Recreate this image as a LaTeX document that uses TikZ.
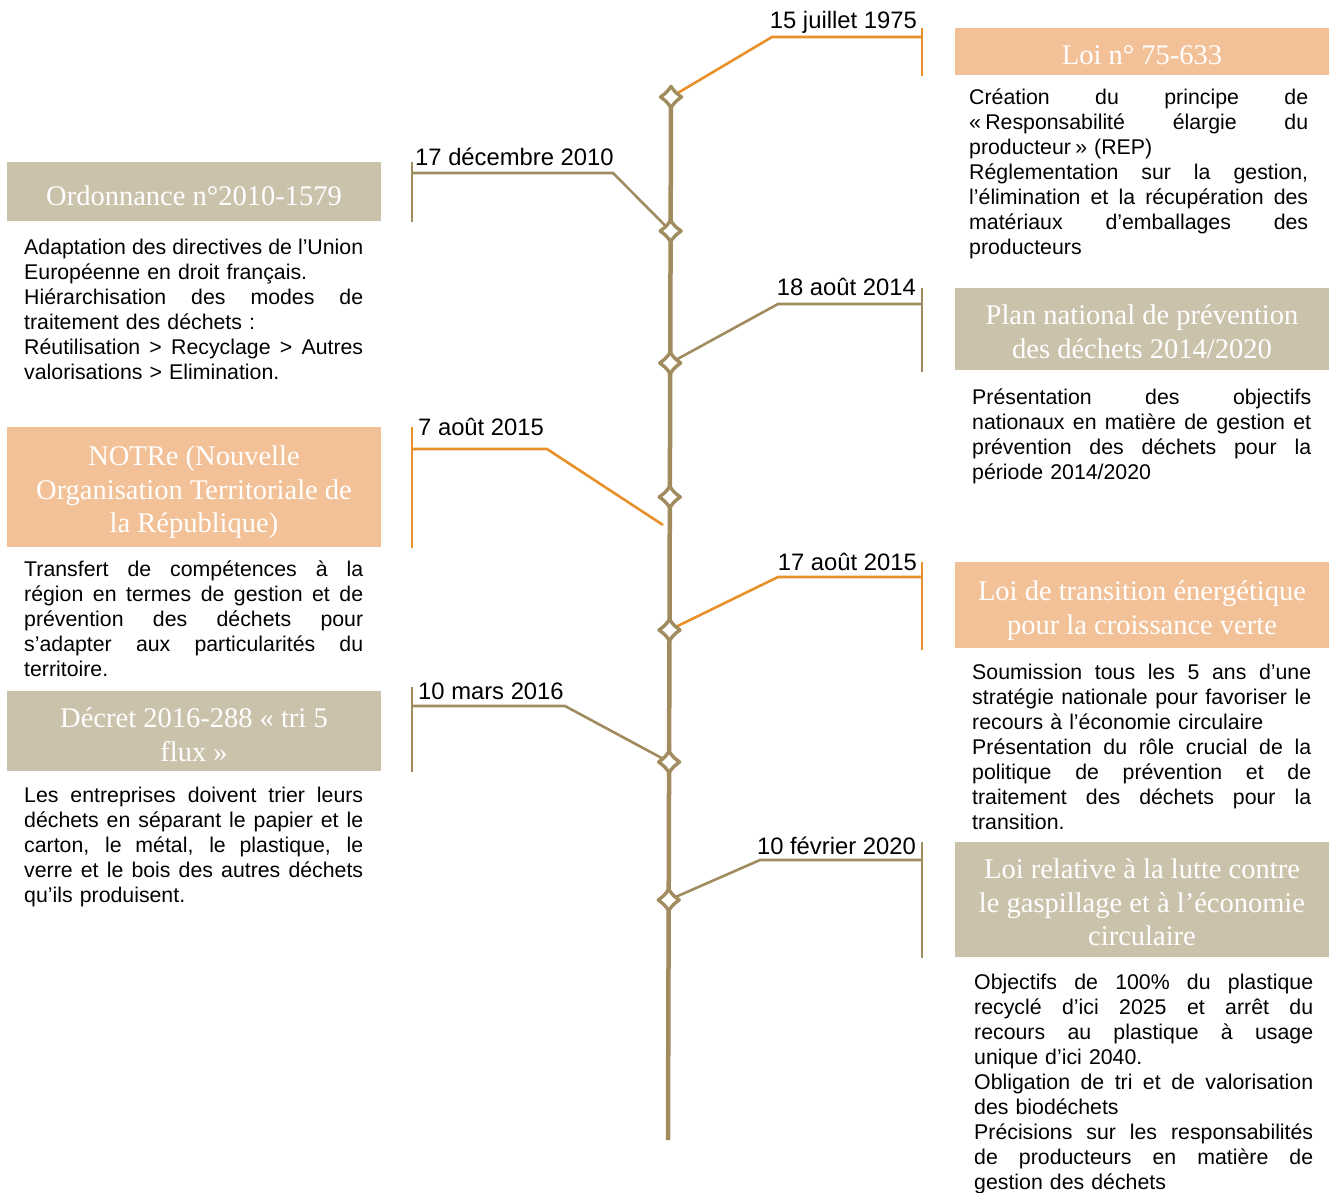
\documentclass[tikz,border=0pt]{standalone}
\usepackage{fontspec}
\setmainfont{Liberation Serif}
\newfontfamily\arialf{Liberation Sans}
\definecolor{brn}{HTML}{A08C5F}
\definecolor{org}{HTML}{E8912B}
\definecolor{graybox}{HTML}{CBC2AC}
\definecolor{orgbox}{HTML}{F3C197}
\newcommand\jline[1]{\hbox to 339pt{\spaceskip=\fontdimen2\font plus 1fil minus 0.3\fontdimen2\font\relax\vrule height19pt depth6pt width0pt #1}}
\newcommand\lline[1]{\hbox{\vrule height19pt depth6pt width0pt #1}}
\tikzset{
  tline/.style={draw=brn, line width=4.5pt},
  bline/.style={draw=brn, line width=2.6pt},
  oline/.style={draw=org, line width=2.6pt},
  body/.style={anchor=north west, inner sep=0pt, text width=339pt,
     font=\arialf\fontsize{21.3}{25}\selectfont, text=black},
  datel/.style={inner sep=0pt, font=\arialf\fontsize{23.8}{28}\selectfont, text=black},
  ttl/.style={anchor=north, inner sep=0pt, align=center, text=white,
     font=\fontsize{28.5}{33.5}\selectfont},
  mk/.pic={\draw[draw=brn, fill=white, line width=3.4pt, line join=round]
     (0,-10.5) .. controls (4,-5) and (5,-4) .. (10.5,0)
     .. controls (5,4) and (4,5) .. (0,10.5)
     .. controls (-4,5) and (-5,4) .. (-10.5,0)
     .. controls (-5,-4) and (-4,-5) .. cycle;}
}
\begin{document}
\begin{tikzpicture}[x=1pt,y=-1pt]
\useasboundingbox[fill=white] (0,0) rectangle (1331,1192);

% boxes
\fill[orgbox]  (955,28)  rectangle (1329,75);
\fill[graybox] (7,162)   rectangle (381,221);
\fill[graybox] (955,288) rectangle (1329,370);
\fill[orgbox]  (7,427)   rectangle (381,547);
\fill[orgbox]  (955,562) rectangle (1329,648);
\fill[graybox] (7,691)   rectangle (381,771);
\fill[graybox] (955,842) rectangle (1329,957);

% titles
\node[ttl] (t1) at (1142,40.5) {\rule{0pt}{24pt}Loi n° 75-633};
\node[ttl] (t2) at (194,181.5) {\rule{0pt}{24pt}Ordonnance n°2010-1579};
\node[ttl] (t3) at (1142,300.5) {\rule{0pt}{24pt}Plan national de prévention\\des déchets 2014/2020};
\node[ttl] (t4) at (194,441.5) {\rule{0pt}{24pt}NOTRe (Nouvelle\\Organisation Territoriale de\\la République)};
\node[ttl] (t5) at (1142,576.5) {\rule{0pt}{24pt}Loi de transition énergétique\\pour la croissance verte};
\node[ttl] (t6) at (194,703.5) {\rule{0pt}{24pt}Décret 2016-288 « tri 5\\flux »};
\node[ttl] (t7) at (1142,854.5) {\rule{0pt}{24pt}Loi relative à la lutte contre\\le gaspillage et à l’économie\\circulaire};

% timeline coordinates
\coordinate (tl0) at (671,97);
\coordinate (tl1) at (668,1140);
\coordinate (m1) at (671,97);
\coordinate (m2) at (670.6,231);
\coordinate (m3) at (670.2,363);
\coordinate (m4) at (669.8,497);
\coordinate (m5) at (669.5,630);
\coordinate (m6) at (669.1,762);
\coordinate (m7) at (668.7,900);

% connector coordinates
\coordinate (c1a) at (772,37);  \coordinate (c1b) at (922,37);
\coordinate (b1t) at (922,28);  \coordinate (b1b) at (922,76);
\coordinate (c2a) at (613,173); \coordinate (c2b) at (412,173);
\coordinate (b2t) at (412,162); \coordinate (b2b) at (412,222);
\coordinate (c3a) at (778,304); \coordinate (c3b) at (922,304);
\coordinate (b3t) at (922,288); \coordinate (b3b) at (922,372);
\coordinate (c4s) at (663,525);
\coordinate (c4a) at (547,449); \coordinate (c4b) at (412,449);
\coordinate (b4t) at (412,427); \coordinate (b4b) at (412,548);
\coordinate (c5a) at (778,577); \coordinate (c5b) at (922,577);
\coordinate (b5t) at (922,562); \coordinate (b5b) at (922,650);
\coordinate (c6a) at (565,706); \coordinate (c6b) at (412,706);
\coordinate (b6t) at (412,687); \coordinate (b6b) at (412,772);
\coordinate (c7a) at (760,860); \coordinate (c7b) at (922,860);
\coordinate (b7t) at (922,842); \coordinate (b7b) at (922,958);

\draw[tline] (tl0) -- (tl1);

\draw[oline] (m1) -- (c1a) -- (c1b);  \draw[oline] (b1t) -- (b1b);
\draw[bline] (m2) -- (c2a) -- (c2b);  \draw[bline] (b2t) -- (b2b);
\draw[bline] (m3) -- (c3a) -- (c3b);  \draw[bline] (b3t) -- (b3b);
\draw[oline] (c4s) -- (c4a) -- (c4b); \draw[oline] (b4t) -- (b4b);
\draw[oline] (m5) -- (c5a) -- (c5b);  \draw[oline] (b5t) -- (b5b);
\draw[bline] (m6) -- (c6a) -- (c6b);  \draw[bline] (b6t) -- (b6b);
\draw[bline] (m7) -- (c7a) -- (c7b);  \draw[bline] (b7t) -- (b7b);

\foreach \m in {m1,m2,m3,m4,m5,m6,m7} { \pic at (\m) {mk}; }

% dates
\node[datel, anchor=base east] (d1) at (917,28.5) {15 juillet 1975};
\node[datel, anchor=base west] (d2) at (415,165) {17 décembre 2010};
\node[datel, anchor=base east] (d3) at (916,295) {18 août 2014};
\node[datel, anchor=base west] (d4) at (418,435) {7 août 2015};
\node[datel, anchor=base east] (d5) at (917,570) {17 août 2015};
\node[datel, anchor=base west] (d6) at (418,699) {10 mars 2016};
\node[datel, anchor=base east] (d7) at (916,854) {10 février 2020};

% body texts
\node[body] (x1) at (969,85) {\vbox{%
\jline{Création du principe de}%
\jline{«\kern0.2em Responsabilité élargie du}%
\lline{producteur\kern0.2em» (REP)}%
\jline{Réglementation sur la gestion,}%
\jline{l’élimination et la récupération des}%
\jline{matériaux d’emballages des}%
\lline{producteurs}}};

\node[body] (x2) at (24,235) {\vbox{%
\jline{Adaptation des directives de l’Union}%
\lline{Européenne en droit français.}%
\jline{Hiérarchisation des modes de}%
\lline{traitement des déchets :}%
\jline{Réutilisation > Recyclage > Autres}%
\lline{valorisations > Elimination.}}};

\node[body] (x3) at (972,385) {\vbox{%
\jline{Présentation des objectifs}%
\jline{nationaux en matière de gestion et}%
\jline{prévention des déchets pour la}%
\lline{période 2014/2020}}};

\node[body] (x4) at (24,557) {\vbox{%
\jline{Transfert de compétences à la}%
\jline{région en termes de gestion et de}%
\jline{prévention des déchets pour}%
\jline{s’adapter aux particularités du}%
\lline{territoire.}}};

\node[body] (x5) at (972,660) {\vbox{%
\jline{Soumission tous les 5 ans d’une}%
\jline{stratégie nationale pour favoriser le}%
\lline{recours à l’économie circulaire}%
\jline{Présentation du rôle crucial de la}%
\jline{politique de prévention et de}%
\jline{traitement des déchets pour la}%
\lline{transition.}}};

\node[body] (x6) at (24,783) {\vbox{%
\jline{Les entreprises doivent trier leurs}%
\jline{déchets en séparant le papier et le}%
\jline{carton, le métal, le plastique, le}%
\jline{verre et le bois des autres déchets}%
\lline{qu’ils produisent.}}};

\node[body] (x7) at (974,970) {\vbox{%
\jline{Objectifs de 100\% du plastique}%
\jline{recyclé d’ici 2025 et arrêt du}%
\jline{recours au plastique à usage}%
\lline{unique d’ici 2040.}%
\jline{Obligation de tri et de valorisation}%
\lline{des biodéchets}%
\jline{Précisions sur les responsabilités}%
\jline{de producteurs en matière de}%
\lline{gestion des déchets}}};
\end{tikzpicture}
\end{document}
